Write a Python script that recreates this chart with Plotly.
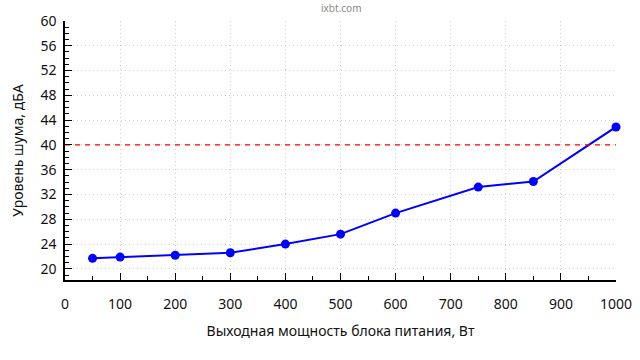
import plotly.graph_objects as go

power_w = [50, 100, 200, 300, 400, 500, 600, 750, 850, 1000]
noise_dba = [21.7, 21.9, 22.2, 22.6, 24.0, 25.6, 29.0, 33.2, 34.1, 42.9]
limit_dba = 40
x_title = "Выходная мощность блока питания, Вт"
y_title = "Уровень шума, дБА"
site = "ixbt.com"

fig = go.Figure()
fig.add_trace(go.Scatter(
    x=power_w, y=noise_dba, mode="lines+markers",
    line=dict(color="#0000ff", width=2),
    marker=dict(color="#0000ff", size=9),
    showlegend=False, cliponaxis=False,
))
fig.add_trace(go.Scatter(
    x=[0, 1000], y=[limit_dba, limit_dba], mode="lines",
    line=dict(color="#ff0000", width=1.3, dash="5px,5px"),
    showlegend=False, hoverinfo="skip",
))

font = "Noto Sans"
fig.update_layout(
    width=640, height=360,
    margin=dict(l=65, r=24, t=21, b=80, autoexpand=False),
    paper_bgcolor="white", plot_bgcolor="white",
    font=dict(family=font, size=14, color="#111"),
    annotations=[dict(text=site, showarrow=False, xref="paper", yref="paper",
                      x=(341 - 65) / (640 - 65 - 24), y=1 + (21 - 8) / (360 - 21 - 80),
                      xanchor="center", yanchor="middle",
                      font=dict(size=10, color="#888"))],
)
fig.update_xaxes(
    range=[0, 1000], tickmode="linear", tick0=0, dtick=100,
    ticks="inside", ticklen=7, tickcolor="black", tickwidth=1,
    minor=dict(ticks="inside", ticklen=4, dtick=50, tickcolor="black", showgrid=False),
    showline=True, linecolor="black", linewidth=1.5,
    showgrid=True, gridcolor="#cfcfcf", griddash="1px,3px", gridwidth=1,
    zeroline=False, ticklabelstandoff=10, automargin=False,
    title=dict(text=x_title, standoff=15, font=dict(size=14)),
)
fig.update_yaxes(
    range=[18.2, 60], tickmode="linear", tick0=20, dtick=4,
    ticks="inside", ticklen=7, tickcolor="black", tickwidth=1,
    minor=dict(ticks="inside", ticklen=4, dtick=1, tick0=20, tickcolor="black", showgrid=False),
    showline=True, linecolor="black", linewidth=1.5,
    showgrid=True, gridcolor="#cfcfcf", griddash="1px,3px", gridwidth=1,
    zeroline=False, ticklabelstandoff=4, automargin=False,
    title=dict(text=y_title, standoff=14, font=dict(size=14)),
)
fig.write_html("out.html", config={"displayModeBar": False},
               post_script="document.body.style.margin='0';document.body.style.overflow='hidden';")
